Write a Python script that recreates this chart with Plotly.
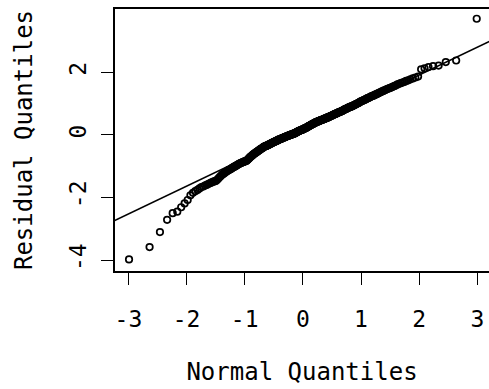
import plotly.graph_objects as go
from statistics import NormalDist

# Sorted residuals (sample quantiles)
residuals = [
    -3.96, -3.57, -3.09, -2.70, -2.49, -2.44, -2.30, -2.18, -2.07, -1.92,
    -1.84, -1.79, -1.75, -1.70, -1.66, -1.64, -1.61, -1.59, -1.56, -1.54,
    -1.52, -1.50, -1.48, -1.47, -1.45, -1.41, -1.37, -1.33, -1.30, -1.26,
    -1.24, -1.22, -1.19, -1.17, -1.15, -1.13, -1.11, -1.10, -1.08, -1.06,
    -1.04, -1.03, -1.01, -1.00, -0.98, -0.97, -0.95, -0.94, -0.92, -0.91,
    -0.90, -0.89, -0.88, -0.87, -0.86, -0.85, -0.84, -0.84, -0.83, -0.82,
    -0.80, -0.78, -0.76, -0.74, -0.72, -0.70, -0.68, -0.67, -0.65, -0.63,
    -0.62, -0.60, -0.59, -0.58, -0.56, -0.55, -0.54, -0.53, -0.51, -0.50,
    -0.49, -0.48, -0.46, -0.45, -0.44, -0.43, -0.42, -0.41, -0.39, -0.38,
    -0.37, -0.37, -0.36, -0.35, -0.35, -0.34, -0.33, -0.33, -0.32, -0.31,
    -0.30, -0.29, -0.29, -0.28, -0.27, -0.26, -0.25, -0.25, -0.24, -0.23,
    -0.22, -0.22, -0.21, -0.20, -0.20, -0.19, -0.18, -0.18, -0.17, -0.16,
    -0.15, -0.15, -0.14, -0.14, -0.13, -0.13, -0.12, -0.11, -0.11, -0.10,
    -0.09, -0.09, -0.08, -0.08, -0.07, -0.07, -0.06, -0.05, -0.05, -0.04,
    -0.04, -0.03, -0.03, -0.02, -0.02, -0.01, -0.01, 0.00, 0.00, 0.01,
    0.01, 0.02, 0.02, 0.03, 0.03, 0.04, 0.04, 0.05, 0.05, 0.06,
    0.07, 0.07, 0.08, 0.09, 0.10, 0.10, 0.11, 0.12, 0.12, 0.13,
    0.14, 0.14, 0.15, 0.15, 0.16, 0.16, 0.17, 0.17, 0.18,
    0.19, 0.19, 0.20, 0.21, 0.21, 0.22, 0.22, 0.23, 0.24, 0.24, 0.25,
    0.26, 0.27, 0.28, 0.28, 0.29, 0.30, 0.31, 0.31, 0.32, 0.33,
    0.34, 0.34, 0.35, 0.36, 0.36, 0.37, 0.38, 0.38, 0.39, 0.40,
    0.41, 0.41, 0.42, 0.42, 0.43, 0.43, 0.44, 0.44, 0.45, 0.46,
    0.46, 0.47, 0.47, 0.48, 0.48, 0.49, 0.49, 0.50, 0.50, 0.51,
    0.52, 0.52, 0.53, 0.53, 0.54, 0.55, 0.55, 0.56, 0.56, 0.57,
    0.58, 0.58, 0.59, 0.60, 0.60, 0.61, 0.62, 0.62, 0.63, 0.64,
    0.65, 0.65, 0.66, 0.67, 0.67, 0.68, 0.69, 0.69, 0.70, 0.71,
    0.72, 0.72, 0.73, 0.74, 0.74, 0.75, 0.76, 0.76, 0.77, 0.78,
    0.79, 0.80, 0.81, 0.82, 0.83, 0.83, 0.84, 0.85, 0.86, 0.87,
    0.88, 0.88, 0.89, 0.90, 0.91, 0.91, 0.92, 0.93, 0.94, 0.95,
    0.96, 0.97, 0.98, 0.99, 1.00, 1.01, 1.02, 1.03, 1.05, 1.06,
    1.07, 1.08, 1.09, 1.10, 1.11, 1.12, 1.13, 1.14, 1.16, 1.17,
    1.18, 1.19, 1.20, 1.22, 1.23, 1.24, 1.25, 1.26, 1.28, 1.29,
    1.30, 1.32, 1.33, 1.35, 1.36, 1.38, 1.39, 1.41, 1.42, 1.44,
    1.46, 1.47, 1.49, 1.50, 1.52, 1.54, 1.56, 1.58, 1.61, 1.63,
    1.65, 1.67, 1.69, 1.72, 1.74, 1.77, 1.80,
    1.83, 1.86, 2.09, 2.12, 2.16, 2.19, 2.21, 2.32, 2.37, 3.70,
]

# Reference line
line_intercept = 0.14
line_slope = 0.885

x_tick_vals = [-3, -2, -1, 0, 1, 2, 3]
x_tick_text = ["-3", "-2", "-1", "0", "1", "2", "3"]
y_tick_vals = [-4, -2, 0, 2]
y_tick_text = ["-4", "-2", "0", "2"]

x_range = [-3.23, 3.20]
y_range = [-4.33, 4.01]

# Theoretical normal quantiles (R's ppoints for n > 10)
n = len(residuals)
nd = NormalDist()
theoretical = [nd.inv_cdf((k + 0.5) / n) for k in range(n)]

line_x = [x_range[0] - 0.2, x_range[1] + 0.2]
line_y = [line_intercept + line_slope * v for v in line_x]

FONT = "DejaVu Sans Mono"

fig = go.Figure()
fig.add_trace(go.Scatter(
    x=line_x, y=line_y, mode="lines",
    line=dict(color="black", width=1.4),
    showlegend=False, hoverinfo="skip",
))
fig.add_trace(go.Scatter(
    x=theoretical, y=residuals, mode="markers",
    marker=dict(symbol="circle-open", size=6.5, color="black",
                line=dict(width=1.7, color="black")),
    showlegend=False,
))

fig.update_layout(
    width=489, height=389,
    margin=dict(l=115, r=0, t=9, b=118),
    paper_bgcolor="white", plot_bgcolor="white",
    font=dict(family=FONT, size=23, color="black"),
    xaxis=dict(
        range=x_range, autorange=False,
        tickmode="array", tickvals=x_tick_vals, ticktext=x_tick_text,
        ticks="outside", ticklen=12, tickwidth=1.4, tickcolor="black",
        ticklabelstandoff=15,
        showline=True, mirror=True, linewidth=1.6, linecolor="black",
        showgrid=False, zeroline=False, automargin=False,
        tickfont=dict(family=FONT, size=23),
        title=dict(text="Normal Quantiles", font=dict(family=FONT, size=24),
                   standoff=32),
    ),
    yaxis=dict(
        range=y_range, autorange=False,
        tickmode="array", tickvals=y_tick_vals, ticktext=y_tick_text,
        ticks="outside", ticklen=12, tickwidth=1.4, tickcolor="black",
        tickangle=-90, ticklabelstandoff=6,
        showline=True, mirror=False, linewidth=1.6, linecolor="black",
        showgrid=False, zeroline=False, automargin=False,
        tickfont=dict(family=FONT, size=23),
        title=dict(text="Residual Quantiles", font=dict(family=FONT, size=24),
                   standoff=26),
    ),
)

fig.write_html("out.html")
